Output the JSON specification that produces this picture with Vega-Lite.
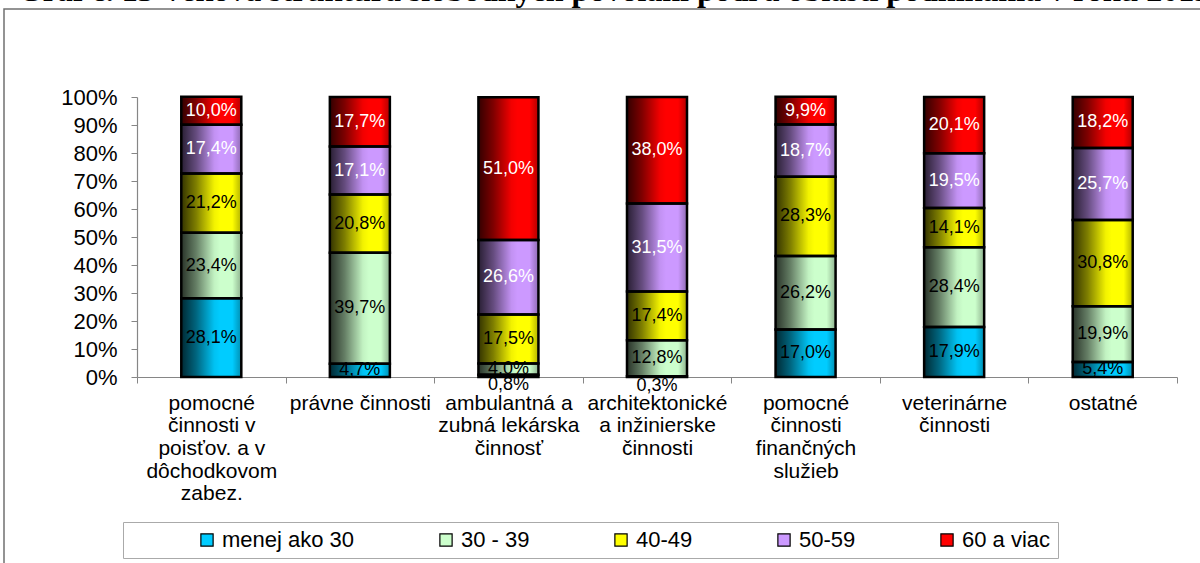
{
  "$schema": "https://vega.github.io/schema/vega-lite/v6.json",
  "width": 1200,
  "height": 560,
  "autosize": "none",
  "padding": {"left": 4, "top": 9, "right": 0, "bottom": 0},
  "background": "white",
  "title": {
    "text": "Graf č. 13 Veková štruktúra slobodných povolaní podľa oblastí podnikania v roku 2013",
    "font": "Liberation Serif", "fontSize": 32, "fontWeight": "bold", "color": "black",
    "anchor": "middle", "baseline": "alphabetic", "offset": 1, "dy": 25, "dx": 10, "frame": "group"
  },
  "config": {
    "view": {"stroke": "#707070", "strokeWidth": 1.5},
    "locale": {"number": {"decimal": ",", "thousands": " ", "grouping": [3], "currency": ["", " €"]}}
  },
  "data": {"values": [
    {"c": "pomocné\nčinnosti v\npoisťov. a v\ndôchodkovom\nzabez.", "a": "menej ako 30", "k": 1, "v": 0.281},
    {"c": "pomocné\nčinnosti v\npoisťov. a v\ndôchodkovom\nzabez.", "a": "30 - 39", "k": 2, "v": 0.234},
    {"c": "pomocné\nčinnosti v\npoisťov. a v\ndôchodkovom\nzabez.", "a": "40-49", "k": 3, "v": 0.212},
    {"c": "pomocné\nčinnosti v\npoisťov. a v\ndôchodkovom\nzabez.", "a": "50-59", "k": 4, "v": 0.174},
    {"c": "pomocné\nčinnosti v\npoisťov. a v\ndôchodkovom\nzabez.", "a": "60 a viac", "k": 5, "v": 0.100},
    {"c": "právne činnosti", "a": "menej ako 30", "k": 1, "v": 0.047},
    {"c": "právne činnosti", "a": "30 - 39", "k": 2, "v": 0.397},
    {"c": "právne činnosti", "a": "40-49", "k": 3, "v": 0.208},
    {"c": "právne činnosti", "a": "50-59", "k": 4, "v": 0.171},
    {"c": "právne činnosti", "a": "60 a viac", "k": 5, "v": 0.177},
    {"c": "ambulantná a\nzubná lekárska\nčinnosť", "a": "menej ako 30", "k": 1, "v": 0.008},
    {"c": "ambulantná a\nzubná lekárska\nčinnosť", "a": "30 - 39", "k": 2, "v": 0.040},
    {"c": "ambulantná a\nzubná lekárska\nčinnosť", "a": "40-49", "k": 3, "v": 0.175},
    {"c": "ambulantná a\nzubná lekárska\nčinnosť", "a": "50-59", "k": 4, "v": 0.266},
    {"c": "ambulantná a\nzubná lekárska\nčinnosť", "a": "60 a viac", "k": 5, "v": 0.510},
    {"c": "architektonické\na inžinierske\nčinnosti", "a": "menej ako 30", "k": 1, "v": 0.003},
    {"c": "architektonické\na inžinierske\nčinnosti", "a": "30 - 39", "k": 2, "v": 0.128},
    {"c": "architektonické\na inžinierske\nčinnosti", "a": "40-49", "k": 3, "v": 0.174},
    {"c": "architektonické\na inžinierske\nčinnosti", "a": "50-59", "k": 4, "v": 0.315},
    {"c": "architektonické\na inžinierske\nčinnosti", "a": "60 a viac", "k": 5, "v": 0.380},
    {"c": "pomocné\nčinnosti\nfinančných\nslužieb", "a": "menej ako 30", "k": 1, "v": 0.170},
    {"c": "pomocné\nčinnosti\nfinančných\nslužieb", "a": "30 - 39", "k": 2, "v": 0.262},
    {"c": "pomocné\nčinnosti\nfinančných\nslužieb", "a": "40-49", "k": 3, "v": 0.283},
    {"c": "pomocné\nčinnosti\nfinančných\nslužieb", "a": "50-59", "k": 4, "v": 0.187},
    {"c": "pomocné\nčinnosti\nfinančných\nslužieb", "a": "60 a viac", "k": 5, "v": 0.099},
    {"c": "veterinárne\nčinnosti", "a": "menej ako 30", "k": 1, "v": 0.179},
    {"c": "veterinárne\nčinnosti", "a": "30 - 39", "k": 2, "v": 0.284},
    {"c": "veterinárne\nčinnosti", "a": "40-49", "k": 3, "v": 0.141},
    {"c": "veterinárne\nčinnosti", "a": "50-59", "k": 4, "v": 0.195},
    {"c": "veterinárne\nčinnosti", "a": "60 a viac", "k": 5, "v": 0.201},
    {"c": "ostatné", "a": "menej ako 30", "k": 1, "v": 0.054},
    {"c": "ostatné", "a": "30 - 39", "k": 2, "v": 0.199},
    {"c": "ostatné", "a": "40-49", "k": 3, "v": 0.308},
    {"c": "ostatné", "a": "50-59", "k": 4, "v": 0.257},
    {"c": "ostatné", "a": "60 a viac", "k": 5, "v": 0.182}
  ]},
  "encoding": {
    "x": {
      "field": "c", "type": "nominal", "sort": null,
      "scale": {"range": [133, 1173], "paddingInner": 0, "paddingOuter": 0},
      "axis": {
        "title": null, "orient": "bottom", "offset": -192, "tickBand": "extent",
        "tickSize": 6, "tickColor": "#868686", "domainColor": "#868686", "domainWidth": 1.2,
        "labelAngle": 0, "labelFont": "Liberation Sans", "labelFontSize": 21, "labelColor": "black",
        "labelLineHeight": 22.7, "labelPadding": 9, "labelBaseline": "top",
        "labelExpr": "datum.label ? split(datum.label, '\\n') : ''", "labelLimit": 300, "labelOverlap": false, "grid": false
      }
    }
  },
  "layer": [
    {
      "mark": {"type": "bar", "width": {"band": 0.404}},
      "encoding": {
        "y": {
          "field": "v", "type": "quantitative", "stack": "zero",
          "scale": {"domain": [0, 1], "range": [368, 88], "nice": false},
          "axis": {
            "title": null, "offset": -133, "values": [0, 0.1, 0.2, 0.3, 0.4, 0.5, 0.6, 0.7, 0.8, 0.9, 1],
            "format": ".0%", "tickSize": 6, "tickColor": "#868686", "domainColor": "#868686", "domainWidth": 1.2,
            "labelFont": "Liberation Sans", "labelFontSize": 22, "labelColor": "black", "labelPadding": 14, "grid": false
          }
        },
        "color": {
          "field": "a", "type": "nominal",
          "scale": {
            "domain": ["menej ako 30", "30 - 39", "40-49", "50-59", "60 a viac"],
            "range": ["#00CCFF", "#CCFFCC", "#FFFF00", "#CC99FF", "#FF0000"]
          },
          "legend": {
            "title": " ", "orient": "none", "legendX": 119, "legendY": 513, "direction": "horizontal",
            "titleOrient": "left", "titleFontSize": 2, "titlePadding": 66,
            "symbolType": "square", "symbolSize": 150, "symbolStrokeColor": "black", "symbolStrokeWidth": 1.2,
            "labelFont": "Liberation Sans", "labelFontSize": 22, "labelColor": "black", "labelOffset": 4,
            "labelLimit": 300, "columnPadding": 80, "padding": 7, "strokeColor": "#aaaaaa", "fillColor": "white"
          }
        },
        "order": {"field": "k", "type": "quantitative"}
      }
    },
    {
      "mark": {
        "type": "bar", "width": {"band": 0.404}, "stroke": "black", "strokeWidth": 2.5,
        "fill": {
          "gradient": "linear", "x1": 0, "x2": 1, "y1": 0, "y2": 0,
          "stops": [
            {"offset": 0, "color": "rgba(0,0,0,0.8)"},
            {"offset": 0.25, "color": "rgba(0,0,0,0.5)"},
            {"offset": 0.55, "color": "rgba(0,0,0,0.05)"},
            {"offset": 0.65, "color": "rgba(0,0,0,0)"},
            {"offset": 0.85, "color": "rgba(0,0,0,0)"},
            {"offset": 1, "color": "rgba(0,0,0,0.3)"}
          ]
        }
      },
      "encoding": {
        "y": {"field": "v", "type": "quantitative", "stack": "zero"},
        "detail": {"field": "a"},
        "order": {"field": "k", "type": "quantitative"}
      }
    },
    {
      "mark": {"type": "text", "font": "Liberation Sans", "fontSize": 18},
      "encoding": {
        "y": {"field": "v", "type": "quantitative", "stack": "zero", "bandPosition": 0.5},
        "text": {"condition": {"test": "datum.v < 0.01", "value": ""}, "field": "v", "type": "quantitative", "format": ".1%"},
        "color": {"condition": {"test": "datum.k >= 4", "value": "white"}, "value": "black"},
        "detail": {"field": "a"},
        "order": {"field": "k", "type": "quantitative"}
      }
    },
    {
      "transform": [{"filter": "datum.v < 0.01"}],
      "mark": {"type": "text", "font": "Liberation Sans", "fontSize": 18, "dy": 9, "color": "black"},
      "encoding": {
        "y": {"field": "v", "type": "quantitative", "stack": "zero", "bandPosition": 0.5},
        "text": {"field": "v", "type": "quantitative", "format": ".1%"}
      }
    }
  ]
}
